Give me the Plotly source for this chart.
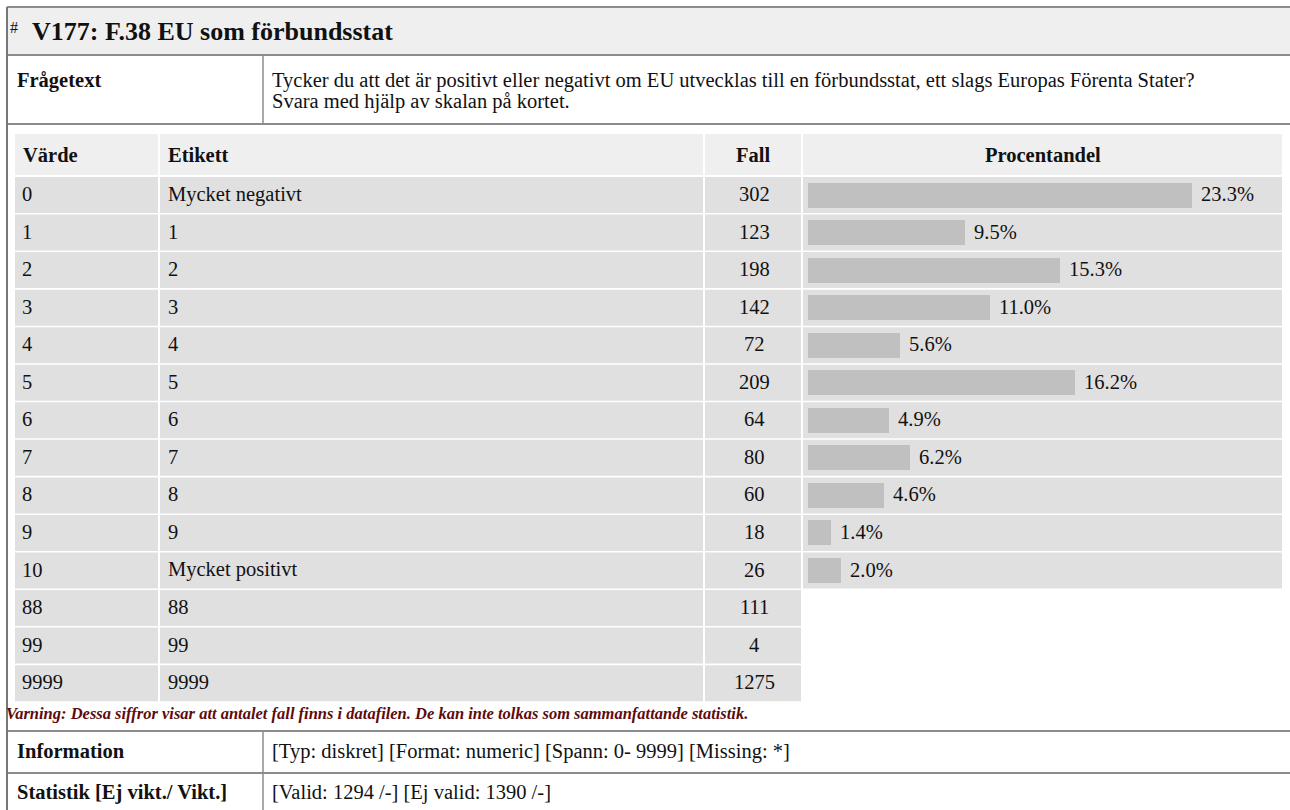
import plotly.graph_objects as go

# ---------------- data ----------------
values = ["0", "1", "2", "3", "4", "5", "6", "7", "8", "9", "10", "88", "99", "9999"]
labels = ["Mycket negativt", "1", "2", "3", "4", "5", "6", "7", "8", "9",
          "Mycket positivt", "88", "99", "9999"]
counts = [302, 123, 198, 142, 72, 209, 64, 80, 60, 18, 26, 111, 4, 1275]
percents = [23.3, 9.5, 15.3, 11.0, 5.6, 16.2, 4.9, 6.2, 4.6, 1.4, 2.0]
headers = ["Värde", "Etikett", "Fall", "Procentandel"]

title_text = "V177: F.38 EU som förbundsstat"
question_label = "Frågetext"
question_lines = [
    "Tycker du att det är positivt eller negativt om EU utvecklas till en förbundsstat, ett slags Europas Förenta Stater?",
    "Svara med hjälp av skalan på kortet.",
]
warning_text = ("Varning: Dessa siffror visar att antalet fall finns i datafilen. "
                "De kan inte tolkas som sammanfattande statistik.")
info_label = "Information"
info_text = "[Typ: diskret] [Format: numeric] [Spann: 0- 9999] [Missing: *]"
stat_label = "Statistik [Ej vikt./ Vikt.]"
stat_text = "[Valid: 1294 /-] [Ej valid: 1390 /-]"

# ---------------- layout constants ----------------
W, H = 1290, 810
FONT = "Liberation Serif"
FS = 20.5
TXT = "#111111"
LINE = "#8c8c8c"
HEAD_BG = "#efefef"
ROW_BG = "#e0e0e0"
BAR_C = "#c0c0c0"

cols = [(15, 158), (160, 703), (705, 801), (803, 1282)]
header_top, header_bot = 134, 175
row_top0, row_pitch, row_h = 177, 37.55, 36
bar_origin_px, px_per_pct = 808, 16.5
bar_thickness = 25

shapes = []
annotations = []


def rect(x0, y0, x1, y1, color):
    shapes.append(dict(type="rect", xref="x", yref="y", x0=x0, y0=y0, x1=x1, y1=y1,
                       fillcolor=color, line=dict(width=0), layer="below"))


def line(x0, y0, x1, y1, color=LINE, width=2):
    shapes.append(dict(type="line", xref="x", yref="y", x0=x0, y0=y0, x1=x1, y1=y1,
                       line=dict(color=color, width=width), layer="below"))


def text(x, y, s, size=FS, bold=False, italic=False, color=TXT, anchor="left"):
    if bold:
        s = "<b>" + s + "</b>"
    if italic:
        s = "<i>" + s + "</i>"
    annotations.append(dict(xref="x", yref="y", x=x, y=y, text=s, showarrow=False,
                            xanchor=anchor, yanchor="middle",
                            font=dict(family=FONT, size=size, color=color)))


# title bar
rect(7, 7, W, 55, HEAD_BG)
line(7, 7, W, 7)
line(7, 55, W, 55)
text(8, 27, "#", size=16)
text(30, 31, title_text, size=26, bold=True)

# question row
line(263, 55, 263, 124, width=1.5)
line(7, 124, W, 124)
text(15, 80, question_label, bold=True)
for i, ql in enumerate(question_lines):
    text(270, 80 + 21 * i, ql)

# header row of inner table
for (c0, c1) in cols:
    rect(c0, header_top, c1, header_bot, HEAD_BG)
hy = (header_top + header_bot) / 2
text(cols[0][0] + 6, hy, headers[0], bold=True)
text(cols[1][0] + 6, hy, headers[1], bold=True)
text((cols[2][0] + cols[2][1]) / 2, hy, headers[2], bold=True, anchor="center")
text((cols[3][0] + cols[3][1]) / 2, hy, headers[3], bold=True, anchor="center")

# data rows
row_centers = []
for i in range(len(values)):
    top = row_top0 + i * row_pitch
    bot = top + row_h
    yc = (top + bot) / 2
    row_centers.append(yc)
    ncols = 4 if i < len(percents) else 3
    for (c0, c1) in cols[:ncols]:
        rect(c0, top, c1, bot, ROW_BG)
    ty = yc - 1
    text(cols[0][0] + 5, ty, values[i])
    text(cols[1][0] + 6, ty, labels[i])
    text((cols[2][0] + cols[2][1]) / 2 + 1, ty, str(counts[i]), anchor="center")

# percentage labels (positioned in data units of the bar axis)
for i, p in enumerate(percents):
    annotations.append(dict(xref="x2", yref="y", x=p, y=row_centers[i] - 1,
                            text=f"{p:.1f}%", showarrow=False, xanchor="left",
                            yanchor="middle", xshift=7,
                            font=dict(family=FONT, size=FS, color=TXT)))

# warning
text(4, 713, warning_text, size=16.5, bold=True, italic=True, color="#5e0b0b")

# information / statistics rows
line(7, 731, W, 731)
line(7, 773, W, 773)
line(7, 811, W, 811)
line(263, 731, 263, 811, width=1.5)
text(15, 751, info_label, bold=True)
text(270, 751, info_text)
text(15, 792, stat_label, bold=True)
text(270, 792, stat_text)

# outer left border
line(7, 7, 7, H, color="#777777", width=2)

fig = go.Figure()
fig.add_trace(go.Bar(
    x=percents,
    y=row_centers[:len(percents)],
    orientation="h",
    width=bar_thickness,
    marker=dict(color=BAR_C, line=dict(width=0)),
    xaxis="x2", yaxis="y",
    hoverinfo="skip",
    showlegend=False,
))

fig.update_layout(
    width=W, height=H,
    margin=dict(l=0, r=0, t=0, b=0),
    paper_bgcolor="white", plot_bgcolor="white",
    xaxis=dict(range=[0, W], visible=False, fixedrange=True, domain=[0, 1]),
    yaxis=dict(range=[H, 0], visible=False, fixedrange=True, domain=[0, 1]),
    xaxis2=dict(overlaying="x", range=[-bar_origin_px / px_per_pct, (W - bar_origin_px) / px_per_pct],
                visible=False, fixedrange=True),
    shapes=shapes,
    annotations=annotations,
    showlegend=False,
    bargap=0,
)

fig.write_html(
    "out.html",
    config={"displayModeBar": False},
    post_script="document.body.style.margin='0';document.body.style.overflow='hidden';",
)
